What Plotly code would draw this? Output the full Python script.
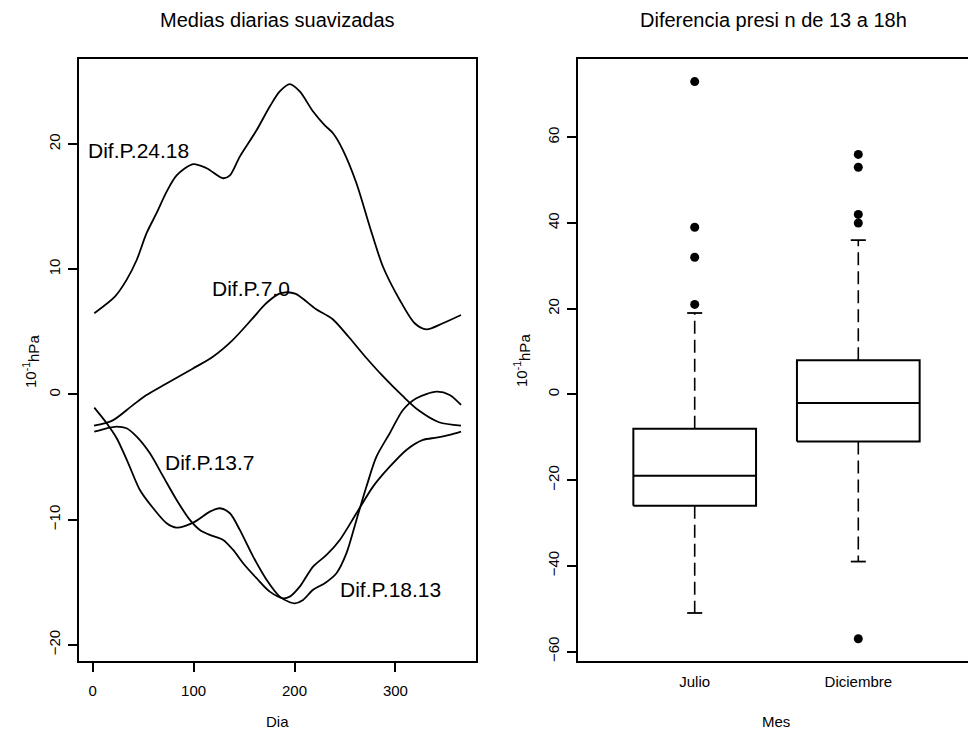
import plotly.graph_objects as go

# ---------------- data: left panel (smoothed daily means) ----------------
day_24_18 = [1.6, 22, 33.6, 43.6, 53.5, 63.4, 73.3, 83.2, 99.6, 112.9, 129.3, 136, 145.8, 162.4,
             175.5, 185.4, 195.3, 205.2, 218.4, 230, 238.2, 248.1, 261.4, 274.6, 287.7, 304.3,
             319.1, 330.7, 347, 365]
val_24_18 = [6.49, 7.81, 9.15, 10.74, 12.9, 14.5, 16.2, 17.5, 18.4, 18.07, 17.27, 17.5, 19.0, 21.1,
             23.0, 24.2, 24.78, 24.2, 22.6, 21.5, 20.86, 19.5, 16.87, 13.4, 10.2, 7.55,
             5.69, 5.2, 5.69, 6.35]

day_7_0 = [1.3, 19.4, 39.2, 52.5, 72.3, 98.6, 118.4, 138.2, 158, 171.3, 184.5, 191.4, 201.3, 221.1,
           237.6, 254, 270.6, 287.1, 306.9, 323.3, 343.2, 365]
val_7_0 = [-2.49, -2.09, -0.89, -0.09, 0.84, 2.04, 2.97, 4.3, 6.03, 7.23, 8.03, 8.16, 8.03, 6.83,
           6.03, 4.57, 2.97, 1.5, -0.1, -1.29, -2.22, -2.49]

day_13_7 = [1.6, 13.9, 23.8, 35.3, 46.8, 60, 73.3, 83.2, 99.6, 116.1, 126, 136, 145.8, 159, 172.3,
            185.4, 195.3, 200.3, 208.5, 218.4, 230, 241.6, 251.5, 261.4, 271.3, 281.2, 294.4,
            307.5, 320.8, 340.6, 353.8, 365]
val_13_7 = [-1.05, -2.3, -3.5, -5.5, -7.63, -9.09, -10.29, -10.64, -10.24, -9.36, -9.09, -9.49,
            -10.82, -12.95, -14.8, -16.15, -16.6, -16.68, -16.41, -15.6, -15.08, -14.28, -12.68,
            -10.02, -7.36, -4.97, -3.1, -1.24, -0.3, 0.22, -0.04, -0.84]

day_18_13 = [1.6, 13.9, 23.8, 33.6, 43.6, 56.7, 69.9, 83.2, 96.3, 106.2, 116.1, 129.3, 139.2, 149.1,
             162.4, 175.5, 188.7, 195.3, 205.2, 218.4, 231.7, 244.9, 261.4, 277.8, 294.4, 310.9,
             327.3, 340.6, 353.8, 365]
val_18_13 = [-2.97, -2.7, -2.57, -2.7, -3.37, -4.7, -6.56, -8.43, -10.02, -10.82, -11.22, -11.62,
             -12.42, -13.48, -14.68, -15.75, -16.28, -16.15, -15.35, -13.75, -12.82, -11.62, -9.49,
             -7.36, -5.77, -4.43, -3.63, -3.45, -3.23, -2.97]

curve_labels = ["Dif.P.24.18", "Dif.P.7.0", "Dif.P.13.7", "Dif.P.18.13"]
label_day = [45.8, 156.5, 116.1, 295.6]
label_val = [19.66, 8.63, -5.31, -15.38]

x_ticks_left = [0, 100, 200, 300]
y_ticks_left = [-20, -10, 0, 10, 20]

# ---------------- data: right panel (boxplot) ----------------
months = ["Julio", "Diciembre"]
q1 = [-26, -11]
median = [-19, -2]
q3 = [-8, 8]
whisk_lo = [-51, -39]
whisk_hi = [19, 36]
outliers = [[21, 32, 39, 73], [40, 42, 53, 56, -57]]
y_ticks_right = [-60, -40, -20, 0, 20, 40, 60]

# ---------------- styling ----------------
FONT = "Liberation Sans, Arial, Helvetica, sans-serif"
W, H = 968, 729
BOX_HALF = 0.375
STAPLE_HALF = 0.046

def px_x(p):
    return p / W

def px_y(p):
    return 1 - p / H

fig = go.Figure()

for dx, vy in [(day_24_18, val_24_18), (day_7_0, val_7_0), (day_13_7, val_13_7), (day_18_13, val_18_13)]:
    fig.add_trace(go.Scatter(x=dx, y=vy, mode="lines", line=dict(color="black", width=1.8, shape="spline", smoothing=0.8),
                             xaxis="x", yaxis="y", showlegend=False, hoverinfo="skip"))

for t, dx, vy in zip(curve_labels, label_day, label_val):
    fig.add_annotation(x=dx, y=vy, xref="x", yref="y", text=t, showarrow=False,
                       font=dict(family=FONT, size=21, color="black"), xanchor="center", yanchor="middle", yshift=-2)

for i, m in enumerate(months):
    pos = i + 1
    fig.add_trace(go.Scatter(
        x=[pos - BOX_HALF, pos + BOX_HALF, pos + BOX_HALF, pos - BOX_HALF, pos - BOX_HALF],
        y=[q1[i], q1[i], q3[i], q3[i], q1[i]],
        mode="lines", line=dict(color="black", width=2), xaxis="x2", yaxis="y2",
        showlegend=False, hoverinfo="skip"))
    fig.add_trace(go.Scatter(x=[pos - BOX_HALF, pos + BOX_HALF], y=[median[i], median[i]],
                             mode="lines", line=dict(color="black", width=2), xaxis="x2", yaxis="y2",
                             showlegend=False, hoverinfo="skip"))
    fig.add_trace(go.Scatter(x=[pos, pos, None, pos, pos], y=[q3[i], whisk_hi[i], None, q1[i], whisk_lo[i]],
                             mode="lines", line=dict(color="black", width=1.6, dash="13px,6px"),
                             xaxis="x2", yaxis="y2", showlegend=False, hoverinfo="skip"))
    fig.add_trace(go.Scatter(x=[pos - STAPLE_HALF, pos + STAPLE_HALF, None, pos - STAPLE_HALF, pos + STAPLE_HALF],
                             y=[whisk_hi[i], whisk_hi[i], None, whisk_lo[i], whisk_lo[i]],
                             mode="lines", line=dict(color="black", width=1.8),
                             xaxis="x2", yaxis="y2", showlegend=False, hoverinfo="skip"))
    fig.add_trace(go.Scatter(x=[pos] * len(outliers[i]), y=outliers[i], mode="markers",
                             marker=dict(color="black", size=9), xaxis="x2", yaxis="y2",
                             showlegend=False, hoverinfo="skip"))

ydom = [px_y(661), px_y(59.3)]
common_axis = dict(showgrid=False, zeroline=False, showline=True, linecolor="black", linewidth=1.8,
                   tickcolor="black", tickwidth=1.5, ticklen=9, automargin=False,
                   tickfont=dict(family=FONT, size=15, color="black"))

fig.update_layout(
    width=W, height=H, margin=dict(l=0, r=0, t=0, b=0),
    paper_bgcolor="white", plot_bgcolor="white",
    font=dict(family=FONT, color="black"),
    xaxis=dict(domain=[px_x(79), px_x(475.7)], range=[-13.56, 379.56], tickvals=x_ticks_left,
               ticks="outside", mirror=True, anchor="y", ticklabelstandoff=6, **common_axis),
    yaxis=dict(domain=ydom, range=[-21.29, 26.77], tickvals=y_ticks_left, tickangle=-90,
               ticks="outside", mirror=True, anchor="x", ticklabelstandoff=2, **common_axis),
    xaxis2=dict(domain=[px_x(578), 1.0], range=[0.2867, 2.6705], tickvals=[1, 2], ticktext=months,
                ticks="", mirror=True, anchor="y2", ticklabelstandoff=6, **common_axis),
    yaxis2=dict(domain=ydom, range=[-62.2, 78.2], tickvals=y_ticks_right, tickangle=-90,
                ticks="outside", mirror=False, anchor="x2", ticklabelstandoff=2, **common_axis),
)

fig.add_annotation(x=px_x(277.5), y=px_y(20), xref="paper", yref="paper", text="Medias diarias suavizadas",
                   showarrow=False, font=dict(family=FONT, size=20), xanchor="center", yanchor="middle")
fig.add_annotation(x=px_x(773), y=px_y(20), xref="paper", yref="paper", text="Diferencia presi n de 13 a 18h",
                   showarrow=False, font=dict(family=FONT, size=20), xanchor="center", yanchor="middle")
fig.add_annotation(x=px_x(277.5), y=px_y(721), xref="paper", yref="paper", text="Dia",
                   showarrow=False, font=dict(family=FONT, size=15), xanchor="center", yanchor="middle")
fig.add_annotation(x=px_x(775.5), y=px_y(721), xref="paper", yref="paper", text="Mes",
                   showarrow=False, font=dict(family=FONT, size=15), xanchor="center", yanchor="middle")
ylab = "10<sup>-1</sup><sub><span style='font-size:15px'>hPa</span></sub>"
fig.add_annotation(x=px_x(31), y=px_y(361), xref="paper", yref="paper", text=ylab, textangle=-90,
                   showarrow=False, font=dict(family=FONT, size=15), xanchor="center", yanchor="middle")
fig.add_annotation(x=px_x(522), y=px_y(361), xref="paper", yref="paper", text=ylab, textangle=-90,
                   showarrow=False, font=dict(family=FONT, size=15), xanchor="center", yanchor="middle")

fig.write_html("out.html", config={"displayModeBar": False},
               post_script="document.body.style.margin='0';document.body.style.overflow='hidden';"
                           "document.documentElement.style.overflow='hidden';")
